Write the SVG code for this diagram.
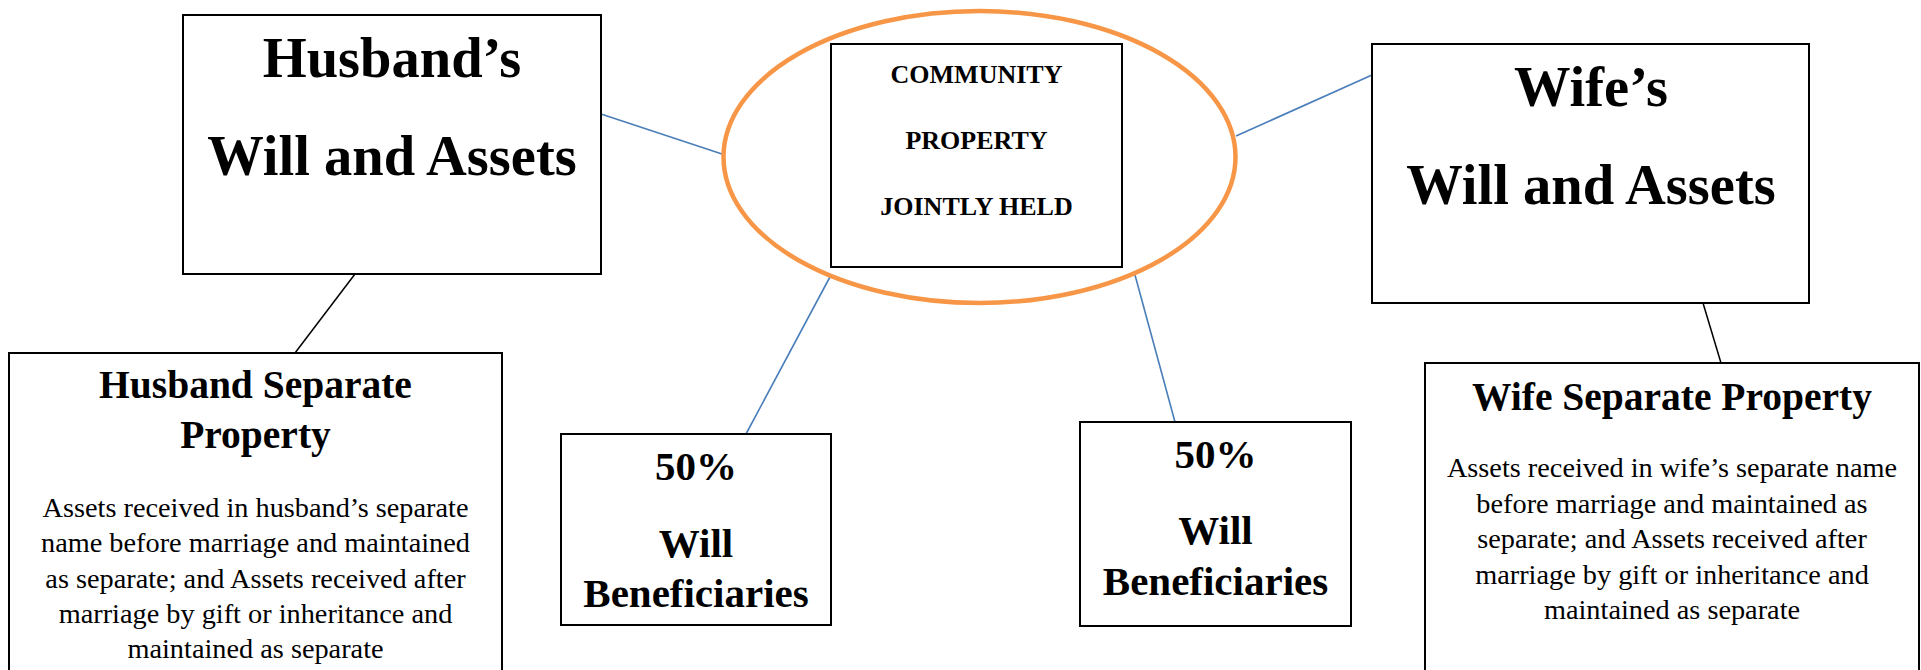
<svg xmlns="http://www.w3.org/2000/svg" width="1921" height="670" viewBox="0 0 1921 670">
<style>
.box{fill:#fff;stroke:#000;stroke-width:2}
.blue{stroke:#4A7EBB;stroke-width:1.6;fill:none}
.blk{stroke:#000;stroke-width:1.5;fill:none}
text{font-family:"Liberation Serif","Times New Roman",serif;fill:#000;text-anchor:middle}
.big{font-size:56.5px;font-weight:bold}
.cp{font-size:26px;font-weight:bold}
.st{font-size:39.5px;font-weight:bold}
.bd{font-size:28.3px}
.pc{font-size:41px;font-weight:bold}
</style>
<rect width="1921" height="670" fill="#fff"/>
<g id="connectors">
<line class="blue" x1="601" y1="114" x2="725" y2="155"/>
<line class="blue" x1="1236" y1="136" x2="1372" y2="75"/>
<line class="blue" x1="831" y1="275" x2="746" y2="434"/>
<line class="blue" x1="1135" y1="275" x2="1175" y2="422"/>
<line class="blk" x1="355" y1="274" x2="295" y2="353"/>
<line class="blk" x1="1703" y1="303" x2="1721" y2="363"/>
</g>
<g id="husband">
<rect class="box" x="183" y="15" width="418" height="259"/>
<text class="big" x="392" y="77">Husband’s</text>
<text class="big" x="392" y="175">Will and Assets</text>
</g>
<g id="community">
<ellipse cx="979.5" cy="157" rx="256" ry="146" fill="#fff" stroke="#F79646" stroke-width="4.5"/>
<rect class="box" x="831" y="44" width="291" height="223"/>
<text class="cp" x="976.5" y="83">COMMUNITY</text>
<text class="cp" x="976.5" y="149">PROPERTY</text>
<text class="cp" x="976.5" y="215">JOINTLY HELD</text>
</g>
<g id="wife">
<rect class="box" x="1372" y="44" width="437" height="259"/>
<text class="big" x="1591" y="106">Wife’s</text>
<text class="big" x="1591" y="204">Will and Assets</text>
</g>
<g id="husband-separate">
<rect class="box" x="9" y="353" width="493" height="340"/>
<text class="st" x="255.5" y="398">Husband Separate</text>
<text class="st" x="255.5" y="448">Property</text>
<text class="bd" x="255.5" y="517">Assets received in husband’s separate</text>
<text class="bd" x="255.5" y="552">name before marriage and maintained</text>
<text class="bd" x="255.5" y="588">as separate; and Assets received after</text>
<text class="bd" x="255.5" y="623">marriage by gift or inheritance and</text>
<text class="bd" x="255.5" y="658">maintained as separate</text>
</g>
<g id="will-left">
<rect class="box" x="561" y="434" width="270" height="191"/>
<text class="pc" x="696" y="480">50%</text>
<text class="pc" x="696" y="557">Will</text>
<text class="pc" x="696" y="607">Beneficiaries</text>
</g>
<g id="will-right">
<rect class="box" x="1080" y="422" width="271" height="204"/>
<text class="pc" x="1215.5" y="468">50%</text>
<text class="pc" x="1215.5" y="544">Will</text>
<text class="pc" x="1215.5" y="595">Beneficiaries</text>
</g>
<g id="wife-separate">
<rect class="box" x="1425" y="363" width="494" height="330"/>
<text class="st" x="1672" y="410">Wife Separate Property</text>
<text class="bd" x="1672" y="477">Assets received in wife’s separate name</text>
<text class="bd" x="1672" y="513">before marriage and maintained as</text>
<text class="bd" x="1672" y="548">separate; and Assets received after</text>
<text class="bd" x="1672" y="584">marriage by gift or inheritance and</text>
<text class="bd" x="1672" y="619">maintained as separate</text>
</g>
</svg>
